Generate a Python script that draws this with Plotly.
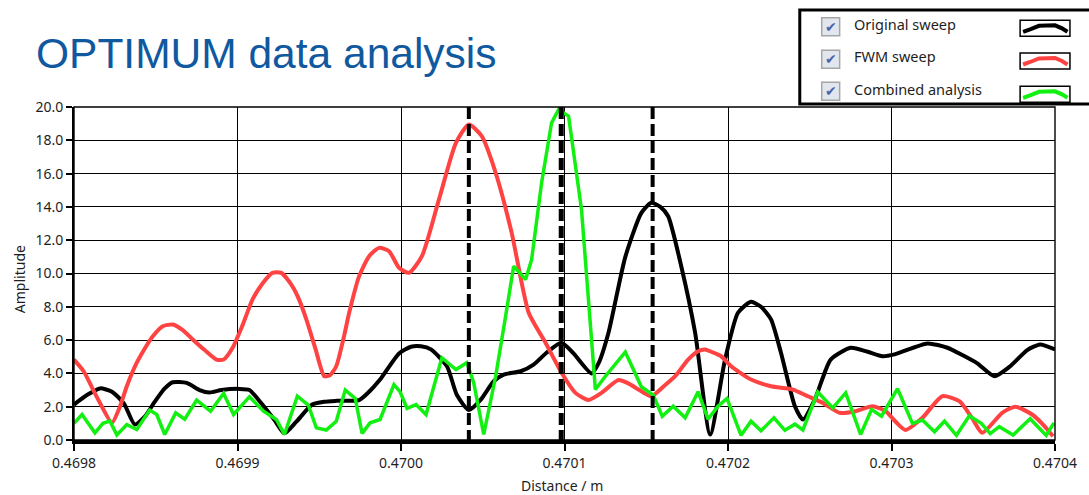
import plotly.graph_objects as go

# ---------------- data ----------------
original_x = [0.4698000, 0.4698079, 0.4698159, 0.4698232, 0.4698305, 0.4698372, 0.4698433, 0.4698494,
              0.4698555, 0.4698604, 0.4698689, 0.4698768, 0.4698829, 0.4698902, 0.4699012, 0.4699073,
              0.4699146, 0.4699226, 0.4699287, 0.4699360, 0.4699457, 0.4699531, 0.4699604, 0.4699744,
              0.4699805, 0.4699872, 0.4699988, 0.4700061, 0.4700122, 0.4700183, 0.4700281, 0.4700342,
              0.4700415, 0.4700488, 0.4700567, 0.4700628, 0.4700732, 0.4700811, 0.4700890, 0.4700982,
              0.4701055, 0.4701165, 0.4701208, 0.4701269, 0.4701372, 0.4701470, 0.4701531, 0.4701586,
              0.4701634, 0.4701714, 0.4701799, 0.4701891, 0.4701982, 0.4702061, 0.4702141, 0.4702202,
              0.4702263, 0.4702324, 0.4702409, 0.4702458, 0.4702531, 0.4702628, 0.4702750, 0.4702854,
              0.4702945, 0.4703019, 0.4703220, 0.4703342, 0.4703433, 0.4703525, 0.4703629, 0.4703726,
              0.4703830, 0.4703909, 0.4704000]
original_y = [2.13, 2.7, 3.1, 2.9, 2.2, 0.93, 1.4, 2.3, 3.1, 3.47, 3.43, 3.0, 2.85, 3.0, 3.07, 3.0,
              2.2, 1.2, 0.4, 1.1, 2.13, 2.3, 2.35, 2.4, 2.9, 3.63, 5.2, 5.6, 5.63, 5.44, 4.43, 2.7,
              1.8, 2.43, 3.53, 3.93, 4.13, 4.53, 5.24, 5.84, 5.2, 4.0, 4.6, 6.44, 11.0, 13.64, 14.25,
              14.0, 13.44, 10.44, 6.44, 0.33, 4.83, 7.64, 8.3, 8.0, 7.24, 5.24, 2.03, 1.23, 2.43, 4.83,
              5.54, 5.3, 5.03, 5.14, 5.8, 5.54, 5.1, 4.6, 3.83, 4.43, 5.4, 5.74, 5.44]

fwm_x = [0.4698000, 0.4698061, 0.4698116, 0.4698171, 0.4698232, 0.4698281, 0.4698323, 0.4698384,
         0.4698433, 0.4698482, 0.4698543, 0.4698604, 0.4698665, 0.4698726, 0.4698799, 0.4698872,
         0.4698915, 0.4698970, 0.4699031, 0.4699092, 0.4699153, 0.4699213, 0.4699268, 0.4699335,
         0.4699378, 0.4699421, 0.4699476, 0.4699531, 0.4699567, 0.4699604, 0.4699653, 0.4699683,
         0.4699744, 0.4699805, 0.4699866, 0.4699927, 0.4699988, 0.4700049, 0.4700128, 0.4700232,
         0.4700336, 0.4700415, 0.4700494, 0.4700579, 0.4700677, 0.4700781, 0.4700884, 0.4700982,
         0.4701067, 0.4701147, 0.4701226, 0.4701330, 0.4701390, 0.4701458, 0.4701531, 0.4701604,
         0.4701677, 0.4701756, 0.4701817, 0.4701860, 0.4701897, 0.4701958, 0.4702019, 0.4702061,
         0.4702141, 0.4702263, 0.4702397, 0.4702488, 0.4702580, 0.4702683, 0.4702781, 0.4702884,
         0.4702964, 0.4703025, 0.4703086, 0.4703189, 0.4703311, 0.4703415, 0.4703494, 0.4703555,
         0.4703677, 0.4703757, 0.4703860, 0.4703927, 0.4703988]
fwm_y = [4.83, 4.1, 3.03, 2.0, 1.03, 2.0, 3.23, 4.64, 5.5, 6.23, 6.83, 6.94, 6.6, 6.04, 5.4, 4.83,
         4.83, 5.54, 6.9, 8.44, 9.4, 10.04, 10.04, 9.24, 8.4, 7.24, 5.5, 3.83, 3.9, 4.43, 6.3, 7.64,
         9.84, 11.04, 11.54, 11.34, 10.34, 10.04, 11.04, 14.44, 17.85, 18.95, 18.25, 16.05, 12.44,
         7.64, 5.84, 4.04, 2.83, 2.4, 2.83, 3.6, 3.4, 3.0, 2.63, 3.2, 3.83, 4.83, 5.33, 5.44, 5.3,
         5.03, 4.43, 4.13, 3.63, 3.23, 3.03, 2.63, 2.23, 1.63, 1.73, 2.03, 1.73, 1.1, 0.6, 1.33,
         2.63, 2.33, 1.3, 0.43, 1.63, 2.0, 1.53, 0.93, 0.23]

combined_x = [0.4698000, 0.4698049, 0.4698128, 0.4698177, 0.4698220, 0.4698262, 0.4698323, 0.4698384,
              0.4698463, 0.4698506, 0.4698555, 0.4698622, 0.4698677, 0.4698750, 0.4698835, 0.4698915,
              0.4698976, 0.4699073, 0.4699159, 0.4699238, 0.4699287, 0.4699366, 0.4699433, 0.4699482,
              0.4699543, 0.4699604, 0.4699659, 0.4699720, 0.4699762, 0.4699811, 0.4699872, 0.4699957,
              0.4699994, 0.4700037, 0.4700092, 0.4700153, 0.4700250, 0.4700336, 0.4700403, 0.4700445,
              0.4700506, 0.4700579, 0.4700640, 0.4700689, 0.4700762, 0.4700799, 0.4700860, 0.4700921,
              0.4700964, 0.4701025, 0.4701104, 0.4701189, 0.4701250, 0.4701372, 0.4701470, 0.4701543,
              0.4701598, 0.4701665, 0.4701738, 0.4701817, 0.4701878, 0.4701939, 0.4701994, 0.4702080,
              0.4702141, 0.4702202, 0.4702281, 0.4702348, 0.4702409, 0.4702458, 0.4702549, 0.4702641,
              0.4702720, 0.4702811, 0.4702878, 0.4702939, 0.4703037, 0.4703128, 0.4703189, 0.4703263,
              0.4703324, 0.4703397, 0.4703476, 0.4703549, 0.4703604, 0.4703659, 0.4703744, 0.4703848,
              0.4703946, 0.4703994]
combined_y = [1.0, 1.53, 0.43, 1.0, 1.13, 0.3, 0.93, 0.63, 1.8, 1.53, 0.33, 1.63, 1.25, 2.4, 1.73,
              2.8, 1.53, 2.6, 1.73, 1.23, 0.33, 2.63, 2.1, 0.73, 0.6, 1.13, 3.0, 2.5, 0.4, 1.03, 1.23,
              3.33, 2.9, 1.9, 2.13, 1.53, 4.94, 4.23, 4.64, 3.43, 0.33, 3.83, 7.44, 10.44, 9.64, 10.84,
              15.45, 19.05, 19.85, 19.45, 13.84, 3.03, 3.83, 5.28, 3.2, 2.7, 1.43, 2.03, 1.33, 2.9,
              1.25, 2.03, 2.5, 0.28, 1.13, 0.55, 1.33, 0.58, 0.95, 0.6, 2.88, 1.93, 2.83, 0.33, 1.83,
              1.43, 3.08, 1.0, 1.2, 0.5, 1.13, 0.28, 1.45, 1.0, 0.38, 0.8, 0.3, 1.28, 0.28, 1.03]

marker_positions = [0.4700415, 0.4700980, 0.4701539]

x_tick_values = [0.4698, 0.4699, 0.4700, 0.4701, 0.4702, 0.4703, 0.4704]
x_tick_labels = ["0.4698", "0.4699", "0.4700", "0.4701", "0.4702", "0.4703", "0.4704"]
y_tick_values = [0, 2, 4, 6, 8, 10, 12, 14, 16, 18, 20]
y_tick_labels = ["0.0", "2.0", "4.0", "6.0", "8.0", "10.0", "12.0", "14.0", "16.0", "18.0", "20.0"]

series_names = ["Original sweep", "FWM sweep", "Combined analysis"]
title_text = "OPTIMUM data analysis"
x_title = "Distance / m"
y_title = "Amplitude"

# ---------------- styling / layout ----------------
colors = ["#000000", "#FF4343", "#12F012"]
W, H = 1089, 495
L, R, T, B = 74, 31, 107, 55
PW, PH = W - L - R, H - T - B
FONT = "Noto Sans"
TXT = "#1e1e1e"


def px(xp):
    return (xp - L) / PW


def py(yp):
    return (H - B - yp) / PH


fig = go.Figure()
series = [(original_x, original_y, "spline", 4), (fwm_x, fwm_y, "spline", 4),
          (combined_x, combined_y, "linear", 3.5)]
for (xs, ys, shp, lw), name, col in zip(series, series_names, colors):
    line = dict(color=col, width=lw, shape=shp)
    if shp == "spline":
        line["smoothing"] = 0.6
    fig.add_trace(go.Scatter(x=xs, y=ys, mode="lines", name=name, line=line,
                             showlegend=False, hoverinfo="skip"))

shapes = []
# plot frame (top/right borders)
shapes.append(dict(type="rect", xref="paper", yref="paper", x0=0, x1=1, y0=0, y1=1,
                   line=dict(color="black", width=1.4), layer="above"))
# dashed marker lines
for i, xv in enumerate(marker_positions):
    shapes.append(dict(type="line", xref="x", yref="y", x0=xv, x1=xv, y0=20, y1=0,
                       line=dict(color="black", width=5 if i == 1 else 4,
                                 dash="12px,5px"), layer="above"))

annotations = []
annotations.append(dict(text=title_text, xref="paper", yref="paper", x=px(34), y=py(53),
                        xanchor="left", yanchor="middle", showarrow=False,
                        font=dict(family="Liberation Sans", size=42.5, color="#10599F")))
annotations.append(dict(text=y_title, xref="paper", yref="paper", x=px(19), y=py(279),
                        xanchor="center", yanchor="middle", textangle=-90, showarrow=False,
                        font=dict(family=FONT, size=14, color=TXT)))
annotations.append(dict(text=x_title, xref="paper", yref="paper", x=px(563), y=py(485),
                        xanchor="center", yanchor="middle", showarrow=False,
                        font=dict(family=FONT, size=14, color=TXT)))

# custom legend panel
shapes.append(dict(type="rect", xref="paper", yref="paper", x0=px(802), x1=px(1110),
                   y0=py(104), y1=py(10), line=dict(color="black", width=3),
                   fillcolor="white", layer="above"))
text_rows = [24, 56.5, 89]
box_rows = [26.7, 59.3, 91.2]
sample_rows = [28.3, 61, 94.3]
for name, col, ty, by, sy in zip(series_names, colors, text_rows, box_rows, sample_rows):
    shapes.append(dict(type="rect", xref="paper", yref="paper", x0=px(824), x1=px(842),
                       y0=py(by + 9), y1=py(by - 9), line=dict(color="#A6A6A6", width=1.5),
                       fillcolor="#E2E6EE", layer="above"))
    annotations.append(dict(text="✔", xref="paper", yref="paper", x=px(833.5), y=py(by),
                            xanchor="center", yanchor="middle", showarrow=False,
                            font=dict(family="DejaVu Sans", size=14, color="#4A64AC")))
    annotations.append(dict(text=name, xref="paper", yref="paper", x=px(854), y=py(ty),
                            xanchor="left", yanchor="middle", showarrow=False,
                            font=dict(family=FONT, size=14.5, color=TXT)))
    shapes.append(dict(type="rect", xref="paper", yref="paper", x0=px(1023), x1=px(1073),
                       y0=py(sy + 8), y1=py(sy - 8), line=dict(color="black", width=1.5),
                       fillcolor="white", layer="above"))
    pts = [(1026, sy + 3.5), (1033, sy + 1), (1042, sy - 2.5), (1058, sy - 3),
           (1065, sy), (1070.5, sy + 3.5)]
    path = "M " + " L ".join(f"{px(a):.5f},{py(b):.5f}" for a, b in pts)
    shapes.append(dict(type="path", xref="paper", yref="paper", path=path,
                       line=dict(color=col, width=4), layer="above"))

fig.update_layout(
    width=W, height=H,
    margin=dict(l=L, r=R, t=T, b=B, pad=0),
    paper_bgcolor="white", plot_bgcolor="white",
    shapes=shapes, annotations=annotations,
    xaxis=dict(range=[0.4698, 0.4704], tickmode="array", tickvals=x_tick_values,
               ticktext=x_tick_labels, showgrid=True, gridcolor="black", gridwidth=1.2,
               showline=True, linecolor="black", linewidth=4, ticks="outside", ticklen=7,
               tickwidth=1.5, tickcolor="black", zeroline=False,
               tickfont=dict(family=FONT, size=14, color=TXT)),
    yaxis=dict(range=[0, 20], tickmode="array", tickvals=y_tick_values,
               ticktext=y_tick_labels, showgrid=True, gridcolor="black", gridwidth=1.2,
               showline=True, linecolor="black", linewidth=2, ticks="outside", ticklen=6,
               tickwidth=1.5, tickcolor="black", zeroline=False,
               tickfont=dict(family=FONT, size=14, color=TXT)),
    showlegend=False,
)

fig.write_html("out.html")
